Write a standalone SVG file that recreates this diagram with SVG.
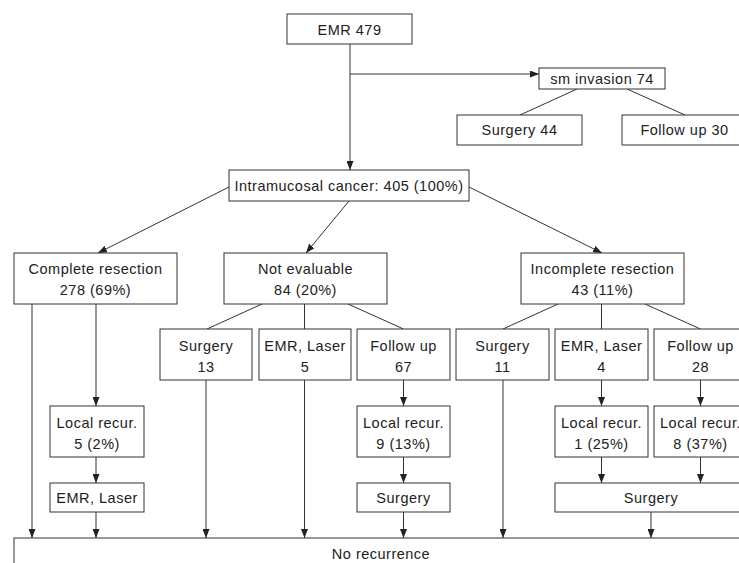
<svg xmlns="http://www.w3.org/2000/svg" width="739" height="563" viewBox="0 0 739 563">
<defs>
<marker id="ah" markerUnits="userSpaceOnUse" markerWidth="9" markerHeight="7" refX="9" refY="3.5" orient="auto">
<path d="M0,0 L9,3.5 L0,7 z" fill="#222"/>
</marker>
<style>
rect{fill:#fff;stroke:#333;stroke-width:1}
text{font-family:"Liberation Sans",Arial,sans-serif;font-size:14.5px;letter-spacing:0.5px;fill:#222;text-anchor:middle}
.c line{stroke:#333;stroke-width:1}
.a{marker-end:url(#ah)}
</style>
</defs>
<rect x="0" y="0" width="739" height="563" style="fill:#fff;stroke:none"/>
<g class="c" id="connectors">
<line x1="350" y1="44" x2="350" y2="170" class="a"/>
<line x1="350" y1="74" x2="539" y2="74" class="a"/>
<line x1="577" y1="89" x2="520" y2="115"/>
<line x1="627" y1="89" x2="685" y2="115"/>
<line x1="229" y1="187" x2="98" y2="253" class="a"/>
<line x1="349" y1="201" x2="306" y2="253" class="a"/>
<line x1="469" y1="187" x2="602" y2="253" class="a"/>
<line x1="32" y1="304" x2="32" y2="538" class="a"/>
<line x1="96" y1="304" x2="96" y2="406" class="a"/>
<line x1="96" y1="457" x2="96" y2="483" class="a"/>
<line x1="96" y1="512" x2="96" y2="538" class="a"/>
<line x1="262" y1="304" x2="207" y2="329"/>
<line x1="304.5" y1="304" x2="304.5" y2="329"/>
<line x1="348" y1="304" x2="403.5" y2="329"/>
<line x1="206" y1="380" x2="206" y2="538" class="a"/>
<line x1="304.5" y1="380" x2="304.5" y2="538" class="a"/>
<line x1="403.5" y1="380" x2="403.5" y2="406" class="a"/>
<line x1="403.5" y1="457" x2="403.5" y2="483" class="a"/>
<line x1="403.5" y1="512" x2="403.5" y2="538" class="a"/>
<line x1="558" y1="304" x2="503" y2="329"/>
<line x1="601.5" y1="304" x2="601.5" y2="329"/>
<line x1="645" y1="304" x2="700.5" y2="329"/>
<line x1="503" y1="380" x2="503" y2="538" class="a"/>
<line x1="601.5" y1="380" x2="601.5" y2="406" class="a"/>
<line x1="601.5" y1="457" x2="601.5" y2="483" class="a"/>
<line x1="700.5" y1="380" x2="700.5" y2="406" class="a"/>
<line x1="700.5" y1="457" x2="700.5" y2="483" class="a"/>
<line x1="651" y1="512" x2="651" y2="538" class="a"/>
</g>
<g id="emr479"><rect x="287" y="14" width="125" height="30"/><text x="349.5" y="34.5">EMR 479</text></g>
<g id="sm"><rect x="539" y="68" width="126" height="21"/><text x="602" y="83.5">sm invasion 74</text></g>
<g id="surg44"><rect x="457" y="115" width="125" height="30"/><text x="519.5" y="135">Surgery 44</text></g>
<g id="fu30"><rect x="622" y="115" width="125" height="30"/><text x="684.5" y="135">Follow up 30</text></g>
<g id="intra"><rect x="229" y="170" width="240" height="31"/><text x="349" y="190.5">Intramucosal cancer: 405 (100%)</text></g>
<g id="complete"><rect x="14" y="253" width="163" height="51"/><text x="95.5" y="273.5">Complete resection</text><text x="95.5" y="295">278 (69%)</text></g>
<g id="noteval"><rect x="224" y="253" width="163" height="51"/><text x="305.5" y="273.5">Not evaluable</text><text x="305.5" y="295">84 (20%)</text></g>
<g id="incomplete"><rect x="521" y="253" width="163" height="51"/><text x="602.5" y="273.5">Incomplete resection</text><text x="602.5" y="295">43 (11%)</text></g>
<g id="lr5"><rect x="50" y="406" width="94" height="51"/><text x="97" y="427.5">Local recur.</text><text x="97" y="449">5 (2%)</text></g>
<g id="emrl1"><rect x="50" y="483" width="94" height="29"/><text x="97" y="503">EMR, Laser</text></g>
<g id="surg13"><rect x="160" y="329" width="92" height="51"/><text x="206" y="350.5">Surgery</text><text x="206" y="372">13</text></g>
<g id="emrl5"><rect x="259" y="329" width="92" height="51"/><text x="305" y="350.5">EMR, Laser</text><text x="305" y="372">5</text></g>
<g id="fu67"><rect x="357" y="329" width="93" height="51"/><text x="403.5" y="350.5">Follow up</text><text x="403.5" y="372">67</text></g>
<g id="lr9"><rect x="357" y="406" width="93" height="51"/><text x="403.5" y="427.5">Local recur.</text><text x="403.5" y="449">9 (13%)</text></g>
<g id="surgA"><rect x="357" y="483" width="93" height="29"/><text x="403.5" y="503">Surgery</text></g>
<g id="surg11"><rect x="456" y="329" width="93" height="51"/><text x="502.5" y="350.5">Surgery</text><text x="502.5" y="372">11</text></g>
<g id="emrl4"><rect x="555" y="329" width="93" height="51"/><text x="601.5" y="350.5">EMR, Laser</text><text x="601.5" y="372">4</text></g>
<g id="fu28"><rect x="654" y="329" width="93" height="51"/><text x="700.5" y="350.5">Follow up</text><text x="700.5" y="372">28</text></g>
<g id="lr1"><rect x="555" y="406" width="93" height="51"/><text x="601.5" y="427.5">Local recur.</text><text x="601.5" y="449">1 (25%)</text></g>
<g id="lr8"><rect x="654" y="406" width="93" height="51"/><text x="700.5" y="427.5">Local recur.</text><text x="700.5" y="449">8 (37%)</text></g>
<g id="surgB"><rect x="555" y="483" width="192" height="29"/><text x="651" y="503">Surgery</text></g>
<g id="norec"><rect x="14" y="538" width="734" height="40"/><text x="381" y="559">No recurrence</text></g>
</svg>
